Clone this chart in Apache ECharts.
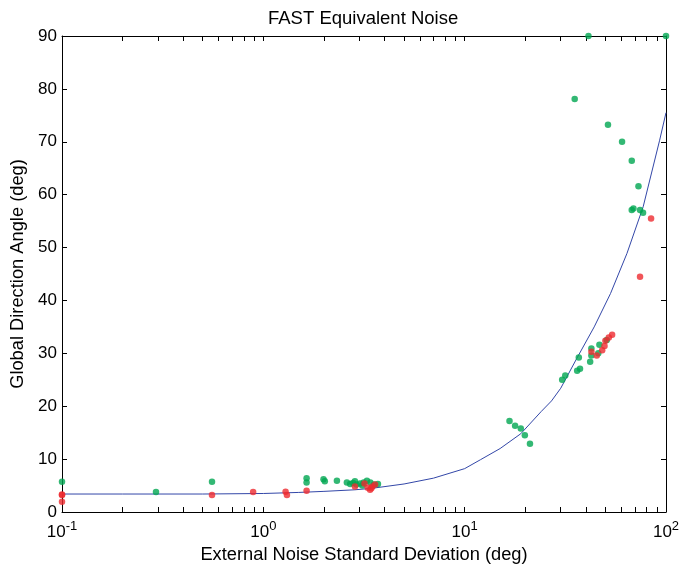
<!DOCTYPE html>
<html>
<head>
<meta charset="utf-8">
<script src="https://cdn.jsdelivr.net/npm/echarts@6/dist/echarts.min.js"></script>
<style>
  html, body { margin: 0; padding: 0; background: #fff; }
  #chart { width: 679px; height: 572px; }
</style>
</head>
<body>
<div id="chart"></div>
<script>
// tick positions (log axis, 2..9 per decade)
var xLabelTicks = [0.1, 1, 10, 100]
var xMinorTicks = [0.1, 0.2, 0.3, 0.4, 0.5, 0.6, 0.7, 0.8, 0.9, 1, 2, 3, 4, 5, 6, 7, 8, 9, 10, 20, 30, 40, 50, 60, 70, 80, 90, 100]

// green observer points
var greenX = [0.1, 0.293, 0.556, 1.64, 1.64, 1.99, 2.02, 2.32, 2.6, 2.7, 2.79, 2.85, 2.9, 3.02, 3.1, 3.15, 3.27, 3.4, 3.55, 3.71,
  16.7, 17.8, 19.0, 19.9, 21.1, 30.5, 31.6, 36.2, 37.4, 36.9, 42.0, 42.6, 42.6, 46.1, 46.7, 50.8,
  41.2, 100, 35.2, 51.5, 60.5, 67.6, 73.0, 67.6, 68.9, 74.3, 76.9]
var greenY = [5.7, 3.8, 5.7, 6.4, 5.6, 6.2, 5.8, 5.9, 5.6, 5.3, 5.5, 5.8, 5.2, 5.4, 5.0, 5.6, 5.9, 5.6, 5.2, 5.3,
  17.2, 16.3, 15.8, 14.5, 12.9, 25.0, 25.8, 26.7, 27.1, 29.2, 28.4, 30.9, 29.6, 30.0, 31.6, 32.5,
  90, 90, 78.1, 73.2, 70.0, 66.4, 61.6, 57.1, 57.4, 57.1, 56.6]

// red observer points
var redX = [0.1, 0.1, 0.1, 0.556, 0.89, 1.29, 1.31, 1.64, 2.85, 3.18, 3.39, 3.48, 3.59, 3.44, 3.3,
  42.6, 45.3, 48.2, 49.5, 50.0, 52.0, 54.0, 84.3, 74.3]
var redY = [3.2, 3.3, 1.95, 3.2, 3.8, 3.85, 3.2, 4.0, 4.8, 5.4, 4.2, 4.8, 5.2, 4.5, 4.6,
  30.3, 29.6, 30.6, 31.4, 32.4, 33.0, 33.5, 55.5, 44.5]

// fitted equivalent-noise curve
var fitX = [0.1, 0.2, 0.5, 1, 1.5, 2, 2.85, 3.5, 5, 7, 10, 12, 15, 19, 24, 27, 30, 36, 44, 53, 64, 77, 93, 100]
var fitY = [3.4, 3.4, 3.4, 3.5, 3.7, 3.9, 4.2, 4.5, 5.3, 6.4, 8.2, 9.9, 12.0, 14.8, 19.0, 21.0, 23.4, 29.0, 35.0, 41.3, 48.9, 57.7, 70.3, 75.5]

function pairs(xs, ys) {
  return xs.map(function(x, i) { return [x, ys[i]] })
}

var font = 'Liberation Sans, Arial, Helvetica, sans-serif'
var chart = echarts.init(document.getElementById('chart'))

function xAxisCfg(pos, showLabels) {
  return {
    type: 'log',
    logBase: 10,
    min: 0.1,
    max: 100,
    position: pos,
    axisLine: { show: true, onZero: false, lineStyle: { color: '#000', width: 1 } },
    axisTick: { show: true, inside: true, length: 5, customValues: xMinorTicks, lineStyle: { color: '#000' } },
    axisLabel: {
      show: showLabels,
      customValues: xLabelTicks,
      margin: 8,
      formatter: function(v) {
        var e = Math.round(Math.log10(v))
        return '{b|10}{s|' + e + '}'
      },
      rich: {
        b: { fontSize: 17, fontFamily: font, color: '#000' },
        s: { fontSize: 13, fontFamily: font, color: '#000', padding: [0, 0, 12, 0] }
      }
    },
    splitLine: { show: false }
  }
}

function yAxisCfg(pos, showLabels) {
  return {
    type: 'value',
    min: 0,
    max: 90,
    interval: 10,
    position: pos,
    axisLine: { show: true, onZero: false, lineStyle: { color: '#000', width: 1 } },
    axisTick: { show: true, inside: true, length: 5, lineStyle: { color: '#000' } },
    axisLabel: { show: showLabels, fontSize: 17, fontFamily: font, color: '#000', margin: 5 },
    splitLine: { show: false }
  }
}

var xBottom = xAxisCfg('bottom', true)
xBottom.name = 'External Noise Standard Deviation (deg)'
xBottom.nameLocation = 'middle'
xBottom.nameGap = 32
xBottom.nameTextStyle = { fontSize: 18.3, fontFamily: font, color: '#000' }

var yLeft = yAxisCfg('left', true)
yLeft.name = 'Global Direction Angle (deg)'
yLeft.nameLocation = 'middle'
yLeft.nameGap = 34
yLeft.nameTextStyle = { fontSize: 18.3, fontFamily: font, color: '#000' }

chart.setOption({
  backgroundColor: '#fff',
  animation: false,
  title: {
    text: 'FAST Equivalent Noise',
    left: 263,
    top: 4,
    textStyle: { fontSize: 18.5, fontWeight: 'normal', fontFamily: font, color: '#000' }
  },
  grid: { left: 62, right: 13, top: 36, bottom: 60, outerBoundsMode: 'none', containLabel: false },
  xAxis: [xBottom, xAxisCfg('top', false)],
  yAxis: [yLeft, yAxisCfg('right', false)],
  series: [
    {
      name: 'fit',
      type: 'line',
      data: pairs(fitX, fitY),
      showSymbol: false,
      smooth: false,
      lineStyle: { color: '#3347a8', width: 1 },
      z: 2
    },
    {
      name: 'green',
      type: 'scatter',
      data: pairs(greenX, greenY),
      symbolSize: 6.5,
      itemStyle: { color: '#00a651' },
      clip: false,
      z: 3
    },
    {
      name: 'red',
      type: 'scatter',
      data: pairs(redX, redY),
      symbolSize: 6.5,
      itemStyle: { color: '#ee2a2f' },
      clip: false,
      z: 4
    }
  ]
})
</script>
</body>
</html>
